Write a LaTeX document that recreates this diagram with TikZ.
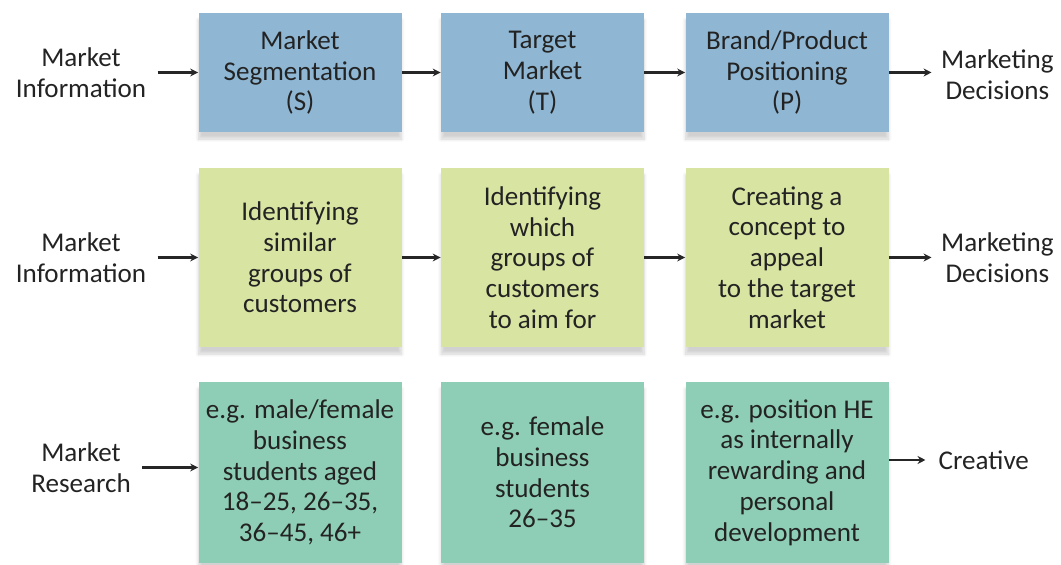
\documentclass[tikz,border=0pt]{standalone}
\usepackage{fontspec}
\setmainfont{Carlito}
\usetikzlibrary{shadows.blur,arrows.meta}
\definecolor{stpblue}{RGB}{143,183,211}
\definecolor{stpyellow}{RGB}{216,228,162}
\definecolor{stpgreen}{RGB}{142,206,182}
\definecolor{stptext}{RGB}{35,35,35}
\tikzset{
  stpbox/.style={minimum width=4.06cm, align=center, text=stptext,
    font=\fontsize{15.4}{17.5}\selectfont,
    blur shadow={shadow xshift=0pt, shadow yshift=-4pt, shadow blur steps=8, shadow opacity=18}},
  sidelabel/.style={align=center, text=stptext, font=\fontsize{15.4}{17.5}\selectfont},
  flow/.style={-{Stealth[length=4.5pt,width=4.5pt]}, line width=1.2pt, draw=black!85}
}
\begin{document}
\begin{tikzpicture}
            \useasboundingbox (0,0) rectangle (21.22,-11.3);
            % row 1
            \node[sidelabel] (info1) at (1.62,-1.45) {Market\\Information};
            \node[stpbox, fill=stpblue, minimum height=2.38cm] (seg) at (6.0,-1.45) {Market\\Segmentation\\(S)};
            \node[stpbox, fill=stpblue, minimum height=2.38cm] (tgt) at (10.85,-1.45) {Target\\Market\\(T)};
            \node[stpbox, fill=stpblue, minimum height=2.38cm] (pos) at (15.74,-1.45) {Brand/Product\\Positioning\\(P)};
            \node[sidelabel, anchor=west] (dec1) at (18.7,-1.5) {Marketing\\Decisions};
            \draw[flow, shorten <=3pt] (info1) -- (seg);
            \draw[flow] (seg) -- (tgt);
            \draw[flow] (tgt) -- (pos);
            \draw[flow, shorten >=2pt] (pos) -- (dec1.west |- pos);
            % row 2
            \node[sidelabel] (info2) at (1.62,-5.15) {Market\\Information};
            \node[stpbox, fill=stpyellow, minimum height=3.58cm] (ident) at (6.0,-5.15) {Identifying\\similar\\groups of\\customers};
            \node[stpbox, fill=stpyellow, minimum height=3.58cm] (aim) at (10.85,-5.15) {Identifying\\which\\groups of\\customers\\to aim for};
            \node[stpbox, fill=stpyellow, minimum height=3.58cm] (concept) at (15.74,-5.15) {Creating a\\concept to\\appeal\\to the target\\market};
            \node[sidelabel, anchor=west] (dec2) at (18.7,-5.15) {Marketing\\Decisions};
            \draw[flow, shorten <=3pt] (info2) -- (ident);
            \draw[flow] (ident) -- (aim);
            \draw[flow] (aim) -- (concept);
            \draw[flow, shorten >=2pt] (concept) -- (dec2);
            % row 3
            \node[sidelabel] (research) at (1.62,-9.35) {Market\\Research};
            \node[stpbox, fill=stpgreen, minimum height=3.62cm] (eg1) at (6.0,-9.45) {e.g. male/female\\business\\students aged\\18--25, 26--35,\\36--45, 46+};
            \node[stpbox, fill=stpgreen, minimum height=3.62cm] (eg2) at (10.85,-9.45) {e.g. female\\business\\students\\26--35};
            \node[stpbox, fill=stpgreen, minimum height=3.62cm] (eg3) at (15.74,-9.45) {e.g. position HE\\as internally\\rewarding and\\personal\\development};
            \node[sidelabel, anchor=west] (creative) at (18.65,-9.2) {Creative};
            \draw[flow, shorten <=3pt] (research) -- (research -| eg1.west);
            \draw[flow, shorten >=4pt] (eg3.east |- creative) -- (creative);
        \end{tikzpicture}
\end{document}
